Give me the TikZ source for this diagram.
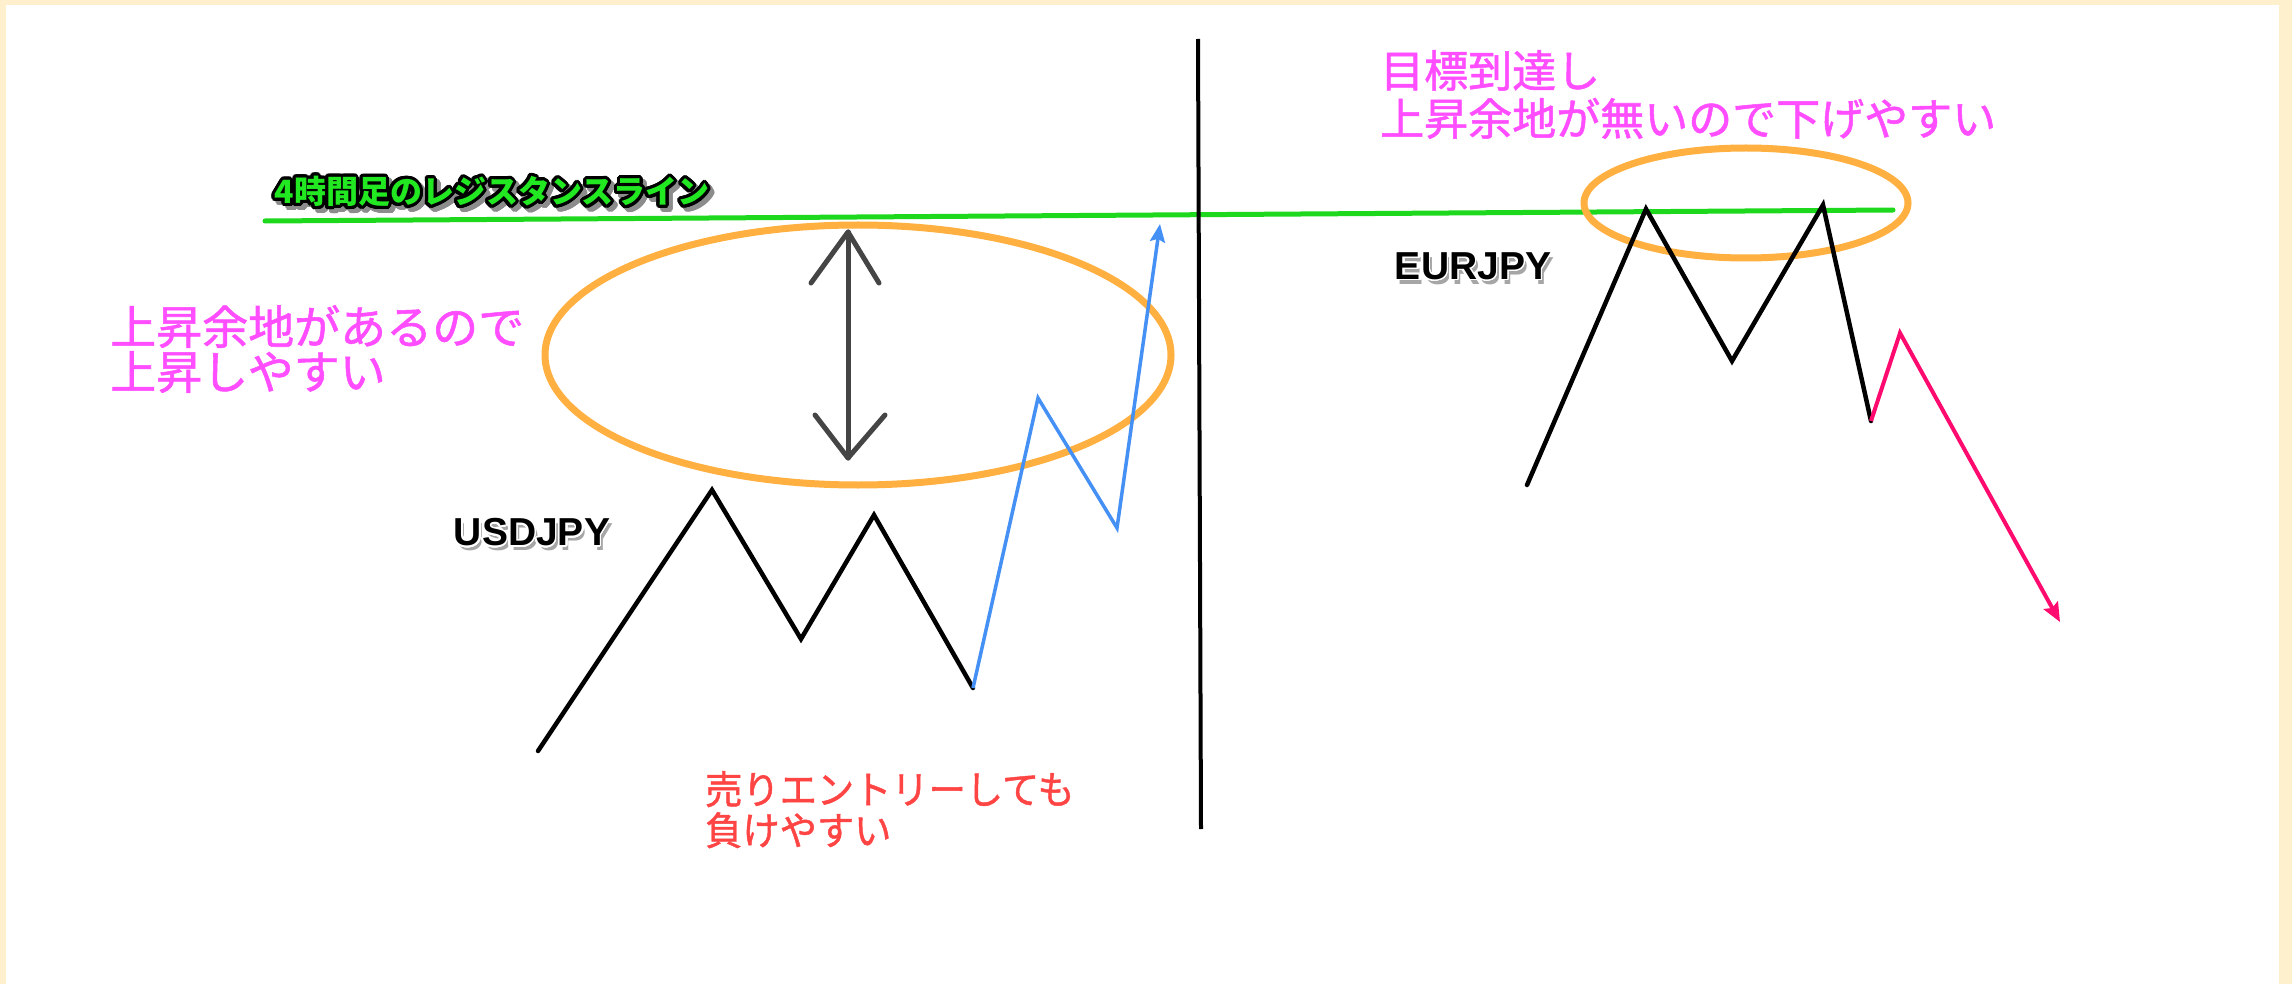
\documentclass[tikz,border=0pt]{standalone}
\usepackage{fontspec}
\setmainfont{Liberation Sans}
\newfontfamily\cjk[FakeBold=1.2]{Noto Sans CJK JP}
\newfontfamily\cjkbold{Noto Sans CJK JP}
\usepackage{contour}
\contournumber{32}
\usetikzlibrary{arrows.meta}
\definecolor{cream}{RGB}{255,240,205}
\definecolor{magtext}{RGB}{255,77,255}
\definecolor{redtext}{RGB}{255,68,68}
\definecolor{hotpink}{RGB}{255,10,110}
\definecolor{bluel}{RGB}{68,144,245}
\definecolor{orangel}{RGB}{255,176,64}
\definecolor{greenl}{RGB}{30,216,30}
\definecolor{greentext}{RGB}{34,232,34}
\definecolor{grayarrow}{RGB}{69,69,69}
\tikzset{
  pricepath/.style={draw=black, line width=4.5pt, line cap=round, line join=miter},
  ovalmark/.style={draw=orangel, line width=7pt},
  jptext/.style={inner sep=0pt, align=left, anchor=north west},
  pairlabel/.style={inner sep=0pt, font=\bfseries\fontsize{39}{39}\selectfont},
}
\begin{document}
\begin{tikzpicture}[x=1pt,y=-1pt]
\useasboundingbox (0,0) rectangle (2292,984);
\fill[cream] (0,0) rectangle (2292,984);
\fill[white] (6,5) rectangle (2279,984);

% resistance line
\coordinate (g1) at (265,221);
\coordinate (g2) at (1893,210);
\draw[greenl, line width=5pt, line cap=round] (g1) -- (g2);

% divider
\coordinate (d1) at (1198,39);
\coordinate (d2) at (1201,829);
\draw[black, line width=4pt] (d1) -- (d2);

% ovals
\draw[ovalmark] (858,355) ellipse [x radius=313pt, y radius=130pt];
\draw[ovalmark] (1746,203) ellipse [x radius=162pt, y radius=55pt];

% double arrow
\coordinate (a1) at (848,232);
\coordinate (a2) at (848,458);
\coordinate (w1) at (811,283);
\coordinate (w2) at (879,283);
\coordinate (w3) at (815,415);
\coordinate (w4) at (885,415);
\draw[grayarrow, line width=5pt, line cap=round, line join=round] (a1) -- (a2);
\draw[grayarrow, line width=5pt, line cap=round, line join=round] (w1) -- (a1) -- (w2);
\draw[grayarrow, line width=5pt, line cap=round, line join=round] (w3) -- (a2) -- (w4);

% USDJPY path
\coordinate (u1) at (538,751);
\coordinate (u2) at (712,490);
\coordinate (u3) at (801,639);
\coordinate (u4) at (874,515);
\coordinate (u5) at (973,688);
\coordinate (b1) at (1038,398);
\coordinate (b2) at (1117,528);
\coordinate (b3) at (1160,224);
\draw[pricepath] (u1) -- (u2) -- (u3) -- (u4) -- (u5);
\draw[bluel, line width=3.5pt, line join=miter, -{Stealth[length=18pt,width=15pt,inset=3pt]}] (u5) -- (b1) -- (b2) -- (b3);

% EURJPY path
\coordinate (e1) at (1527,485);
\coordinate (e2) at (1646,209);
\coordinate (e3) at (1732,361);
\coordinate (e4) at (1823,205);
\coordinate (e5) at (1871,421);
\coordinate (p1) at (1900,333);
\coordinate (p2) at (2060,622);
\draw[pricepath] (e1) -- (e2) -- (e3) -- (e4) -- (e5);
\draw[hotpink, line width=4pt, line join=miter, -{Stealth[length=19pt,width=16pt,inset=3pt]}] (e5) -- (p1) -- (p2);

% labels
\node[pairlabel, text=black!35] at (535,537) {USDJPY};
\node[pairlabel] (usd) at (532,533) {\contourlength{1.5pt}\contour{white}{USDJPY}};
\node[pairlabel, text=black!35] at (1476,271) {EURJPY};
\node[pairlabel] (eur) at (1473,267) {\contourlength{1.5pt}\contour{white}{EURJPY}};

\node[inner sep=0pt, font=\cjkbold\bfseries\fontsize{32}{32}\selectfont, text=black!45] at (496,197)
  {\contourlength{3pt}\contour{black!45}{4時間足のレジスタンスライン}};
\node[inner sep=0pt, font=\cjkbold\bfseries\fontsize{32}{32}\selectfont, text=greentext] (res) at (492,193)
  {\contourlength{3pt}\contour{black}{4時間足のレジスタンスライン}};

\node[jptext, text=magtext, font=\cjk\fontsize{46}{45}\selectfont] (left) at (110,305)
  {上昇余地があるので\\上昇しやすい};
\node[jptext, text=magtext, font=\cjk\fontsize{44}{48}\selectfont] (right) at (1380,50)
  {目標到達し\\上昇余地が無いので下げやすい};
\node[jptext, text=redtext, font=\cjk\fontsize{39}{41}\selectfont, xscale=0.955] (sell) at (705,771)
  {売りエントリーしても\\負けやすい};
\end{tikzpicture}
\end{document}
